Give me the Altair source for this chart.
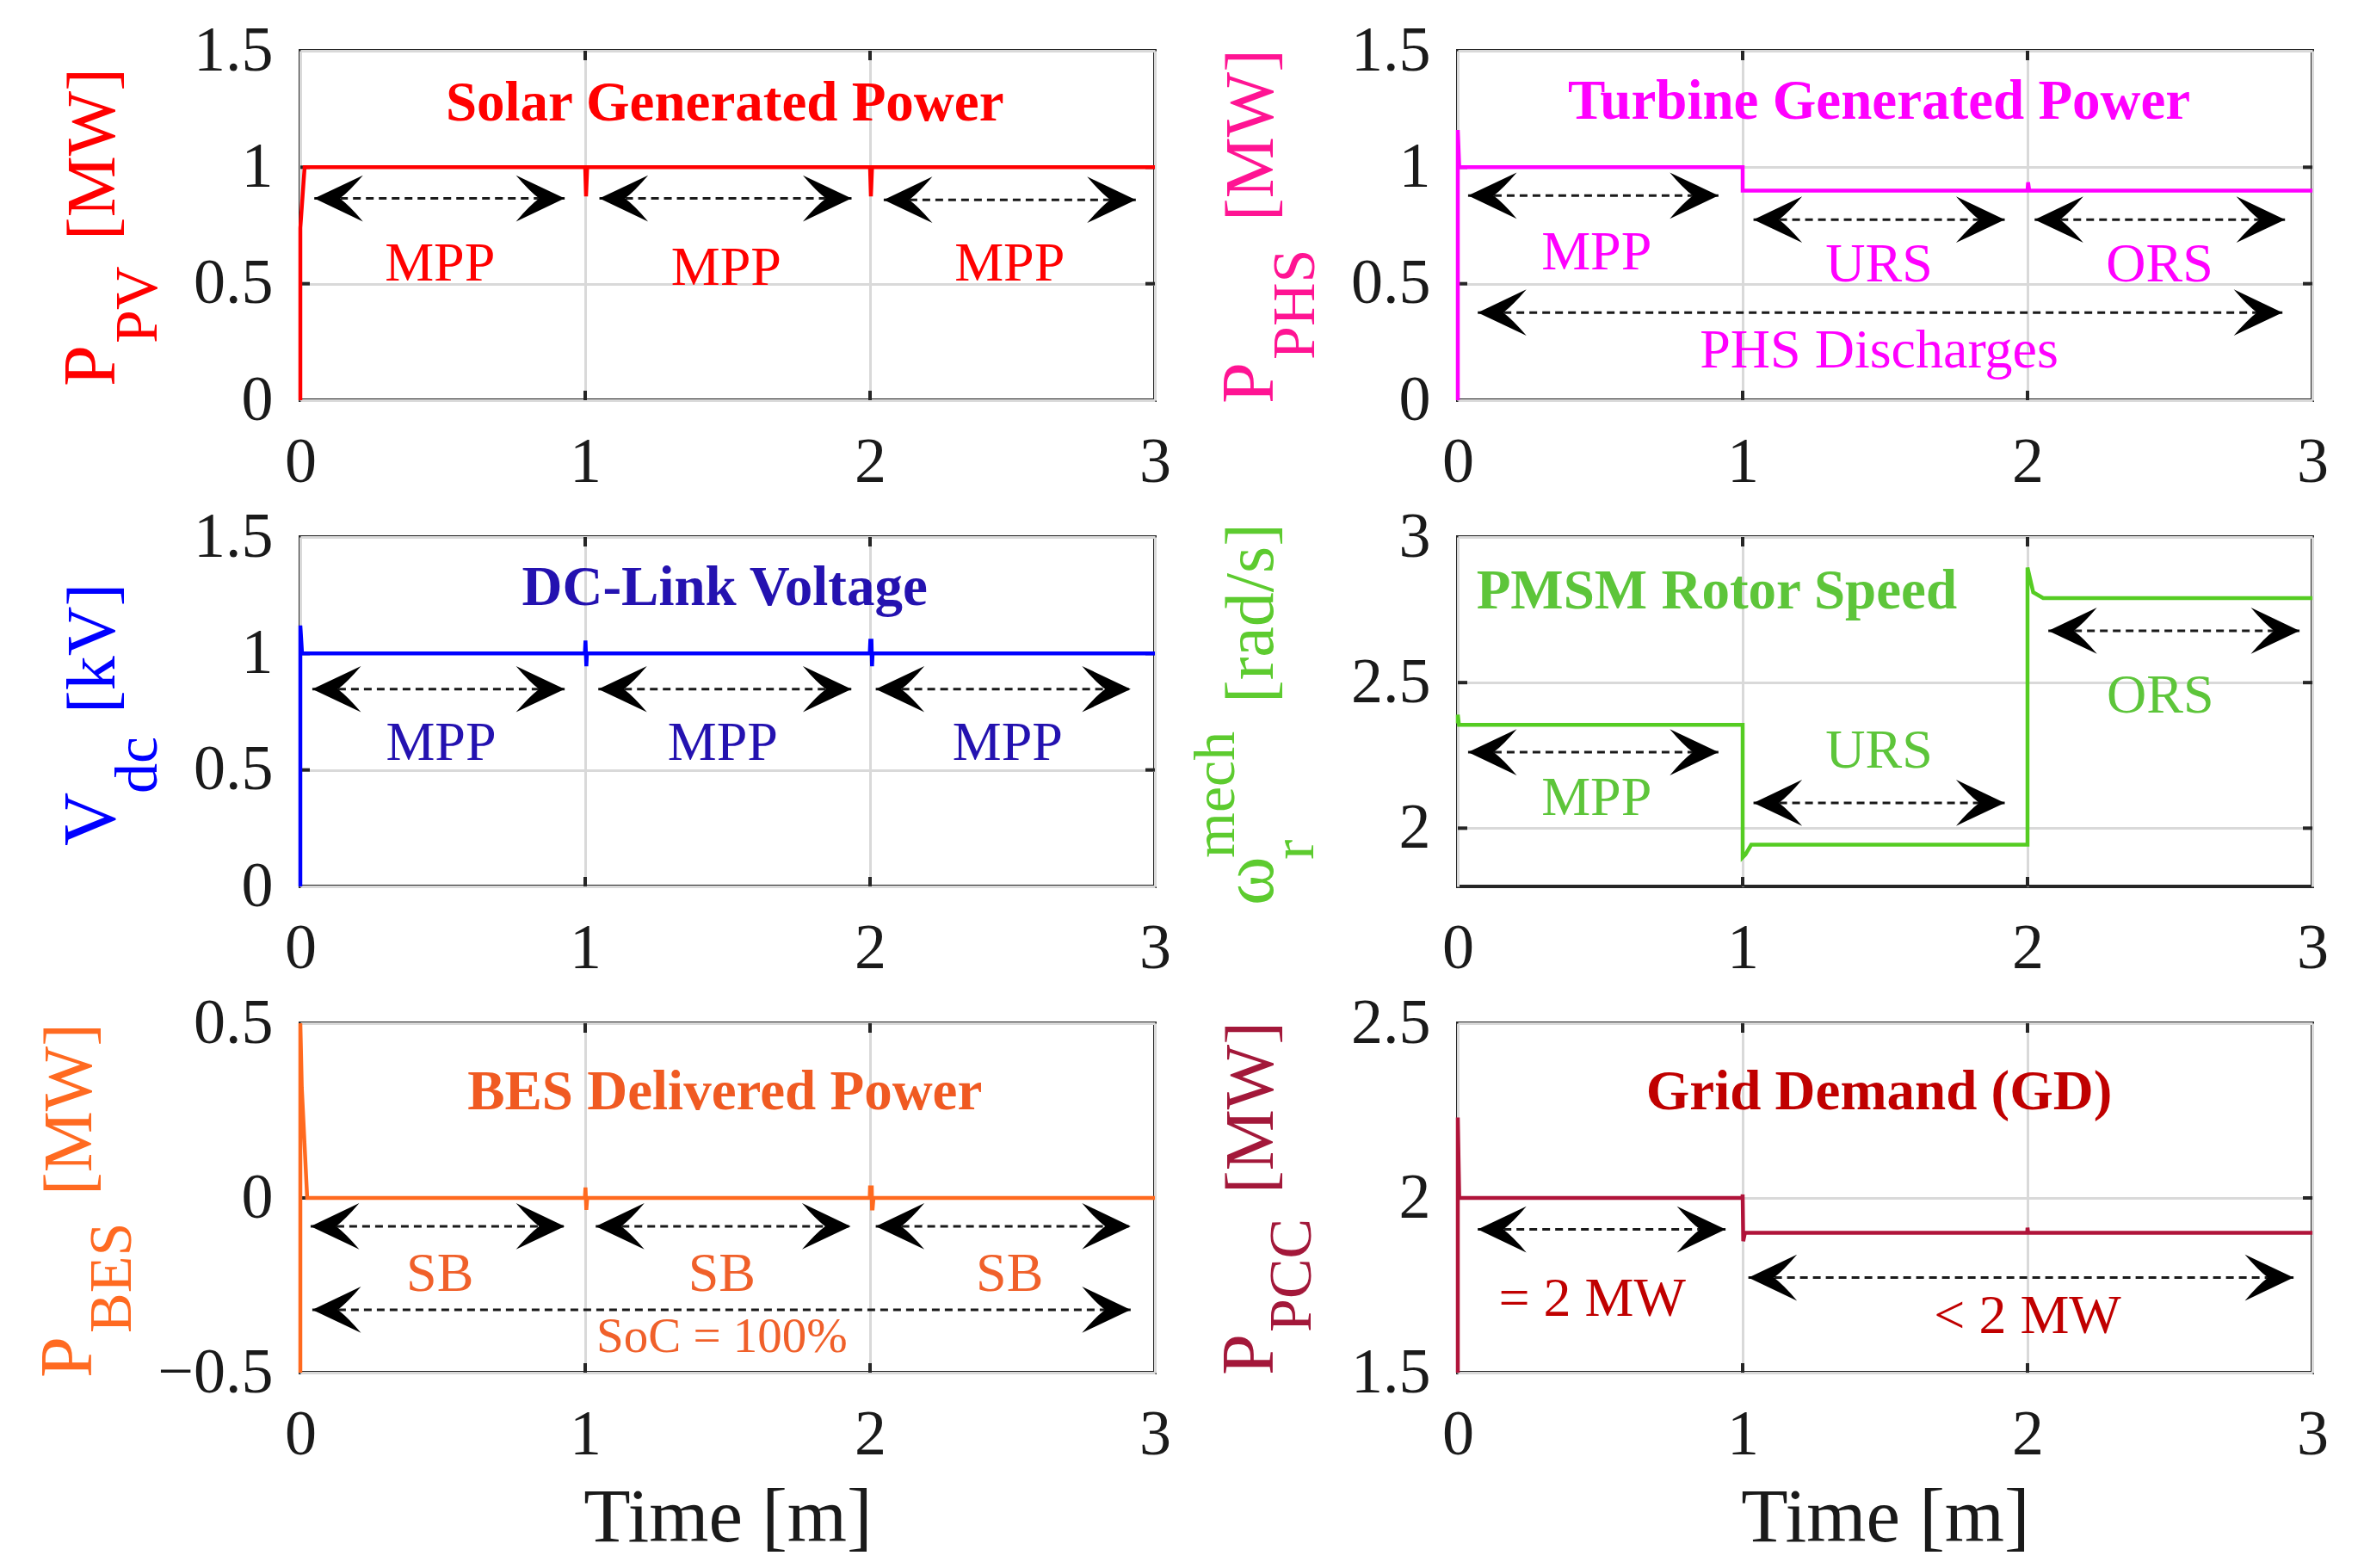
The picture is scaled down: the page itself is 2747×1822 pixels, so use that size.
import altair as alt
import pandas as pd

FONT = "Liberation Serif"
TIME_TICKS = [0, 1, 2, 3]

# ---------------- Panel 1 : Solar generated power ----------------
PV_T = [0, 0, 0.015, 1.0, 1.003, 1.007, 2.0, 2.003, 2.007, 3.0]
PV_V = [0, 0.74, 1.0, 1.0, 0.875, 1.0, 1.0, 0.875, 1.0, 1.0]
PV_YTICKS = [0, 0.5, 1, 1.5]
PV_ARROW_T0 = [0.049, 1.05, 2.048]
PV_ARROW_T1 = [0.928, 1.935, 2.933]
PV_ARROW_Y = [0.866, 0.866, 0.86]
PV_LABELS = ["MPP", "MPP", "MPP"]
PV_LABEL_T = [0.49, 1.495, 2.49]
PV_LABEL_Y = [0.582, 0.564, 0.582]

# ---------------- Panel 2 : Turbine generated power ----------------
PHS_T = [0, 0, 0.005, 1.0, 1.0, 2.0, 2.002, 2.006, 3.0]
PHS_V = [0, 1.16, 1.0, 1.0, 0.9, 0.9, 0.935, 0.9, 0.9]
PHS_YTICKS = [0, 0.5, 1, 1.5]
PHS_ARROW_T0 = [0.036, 1.038, 2.025, 0.07]
PHS_ARROW_T1 = [0.915, 1.92, 2.904, 2.895]
PHS_ARROW_Y = [0.878, 0.775, 0.775, 0.376]
PHS_LABELS = ["MPP", "URS", "ORS", "PHS Discharges"]
PHS_LABEL_T = [0.487, 1.479, 2.464, 1.479]
PHS_LABEL_Y = [0.63, 0.579, 0.579, 0.21]

# ---------------- Panel 3 : DC-link voltage ----------------
VDC_T = [0, 0, 0.006, 0.999, 1.001, 1.004, 1.006, 1.999, 2.001, 2.005, 2.007, 2.009, 3.0]
VDC_V = [0, 1.12, 1.0, 1.0, 1.055, 0.945, 1.0, 1.0, 1.055, 1.055, 0.945, 1.0, 1.0]
VDC_YTICKS = [0, 0.5, 1, 1.5]
VDC_ARROW_T0 = [0.042, 1.046, 2.02]
VDC_ARROW_T1 = [0.928, 1.935, 2.915]
VDC_ARROW_Y = [0.847, 0.847, 0.847]
VDC_LABELS = ["MPP", "MPP", "MPP"]
VDC_LABEL_T = [0.494, 1.483, 2.483]
VDC_LABEL_Y = [0.613, 0.613, 0.613]

# ---------------- Panel 4 : PMSM rotor speed ----------------
W_T = [0, 0, 0.004, 1.0, 1.0, 1.01, 1.03, 2.0, 2.0, 2.02, 2.055, 3.0]
W_V = [2.36, 2.39, 2.355, 2.355, 1.90, 1.91, 1.943, 1.943, 2.895, 2.81, 2.79, 2.79]
W_YTICKS = [2, 2.5, 3]
W_ARROW_T0 = [0.036, 1.038, 2.073]
W_ARROW_T1 = [0.915, 1.92, 2.955]
W_ARROW_Y = [2.261, 2.087, 2.678]
W_LABELS = ["MPP", "URS", "ORS"]
W_LABEL_T = [0.487, 1.479, 2.466]
W_LABEL_Y = [2.102, 2.264, 2.452]

# ---------------- Panel 5 : BES delivered power ----------------
BES_T = [0, 0, 0.005, 0.024, 0.999, 1.001, 1.004, 1.007, 1.999, 2.0, 2.006, 2.007, 2.009, 2.012, 3.0]
BES_V = [-0.5, 0.5, 0.316, 0, 0, 0.03, -0.034, 0, 0, 0.03, 0.03, -0.03, -0.03, 0, 0]
BES_YTICKS = [-0.5, 0, 0.5]
BES_ARROW_T0 = [0.036, 1.037, 2.02, 0.042]
BES_ARROW_T1 = [0.928, 1.932, 2.915, 2.915]
BES_ARROW_Y = [-0.081, -0.081, -0.081, -0.32]
BES_LABELS = ["SB", "SB", "SB"]
BES_LABEL_T = [0.49, 1.48, 2.49]
BES_LABEL_Y = [-0.218, -0.218, -0.218]
BES_NOTES = ["SoC = 100%"]
BES_NOTE_T = [1.48]
BES_NOTE_Y = [-0.40]

# ---------------- Panel 6 : Grid demand ----------------
PCC_T = [0, 0, 0.005, 0.999, 1.0, 1.002, 1.008, 1.999, 2.0, 2.002, 3.0]
PCC_V = [1.5, 2.23, 2.0, 2.0, 2.01, 1.876, 1.9, 1.9, 1.915, 1.9, 1.9]
PCC_YTICKS = [1.5, 2, 2.5]
PCC_ARROW_T0 = [0.07, 1.02]
PCC_ARROW_T1 = [0.94, 2.934]
PCC_ARROW_Y = [1.91, 1.772]
PCC_LABELS = ["= 2 MW", "< 2 MW"]
PCC_LABEL_T = [0.472, 2.0]
PCC_LABEL_Y = [1.71, 1.66]

# ---------------- layout / style ----------------
W, H = 993, 406
LEFT_HEAD = "M0,0 L2,-0.95 Q1.45,-0.3 1.05,0 Q1.45,0.3 2,0.95 Z"
RIGHT_HEAD = "M0,0 L-2,-0.95 Q-1.45,-0.3 -1.05,0 Q-1.45,0.3 -2,0.95 Z"
MAIN, SUB, UNIT, SUP = 86, 70, 80, 68


def x_enc(field, xtitle):
    return alt.X(field, type="quantitative",
                 scale=alt.Scale(domain=[0, 3], nice=False, zero=False),
                 axis=alt.Axis(values=TIME_TICKS, format="~g", title=xtitle))


def y_enc(field, domain, ticks):
    return alt.Y(field, type="quantitative",
                 scale=alt.Scale(domain=domain, nice=False, zero=False),
                 axis=alt.Axis(values=ticks, format="~g", title=None))


def panel(t, v, domain, yticks, line_color, title, title_color, title_pos,
          a0, a1, ay, labels, lt, ly, label_color, ytitle, xtitle=None,
          notes=None, nt=None, ny=None):
    X = lambda f: x_enc(f, xtitle)
    Y = lambda f: y_enc(f, domain, yticks)
    layers = []
    # inward ticks
    xt = pd.DataFrame({"t": [1, 2]})
    layers.append(alt.Chart(xt).mark_rule(color="#262626", strokeWidth=4).encode(
        x=X("t"), y=alt.value(H - 11), y2=alt.value(H)))
    layers.append(alt.Chart(xt).mark_rule(color="#262626", strokeWidth=4).encode(
        x=X("t"), y=alt.value(0), y2=alt.value(11)))
    yt = pd.DataFrame({"v": [y for y in yticks if y not in (domain[0], domain[1])]})
    layers.append(alt.Chart(yt).mark_rule(color="#262626", strokeWidth=4).encode(
        y=Y("v"), x=alt.value(0), x2=alt.value(11)))
    layers.append(alt.Chart(yt).mark_rule(color="#262626", strokeWidth=4).encode(
        y=Y("v"), x=alt.value(W - 11), x2=alt.value(W)))
    # signal
    df = pd.DataFrame({"t": t, "v": v, "i": list(range(len(t)))})
    layers.append(alt.Chart(df).mark_line(color=line_color, strokeWidth=4.5).encode(
        x=X("t"), y=Y("v"), order=alt.Order("i:Q")))
    # arrows
    adf = pd.DataFrame({"t0": a0, "t1": a1, "y": ay})
    layers.append(alt.Chart(adf).mark_rule(color="#1a1a1a", strokeWidth=3, strokeDash=[9, 6]).encode(
        x=X("t0"), x2="t1", y=Y("y")))
    layers.append(alt.Chart(adf).mark_point(shape=LEFT_HEAD, filled=True, size=3200, color="black",
                                            opacity=1).encode(x=X("t0"), y=Y("y")))
    layers.append(alt.Chart(adf).mark_point(shape=RIGHT_HEAD, filled=True, size=3200, color="black",
                                            opacity=1).encode(x=X("t1"), y=Y("y")))
    # labels
    ldf = pd.DataFrame({"txt": labels, "t": lt, "y": ly})
    layers.append(alt.Chart(ldf).mark_text(font=FONT, fontSize=64, color=label_color,
                                           align="center", baseline="middle").encode(
        x=X("t"), y=Y("y"), text="txt:N"))
    if notes:
        ndf = pd.DataFrame({"txt": notes, "t": nt, "y": ny})
        layers.append(alt.Chart(ndf).mark_text(font=FONT, fontSize=57, color=label_color,
                                               align="center", baseline="middle").encode(
            x=X("t"), y=Y("y"), text="txt:N"))
    # panel title
    tdf = pd.DataFrame({"txt": [title], "t": [title_pos[0]], "y": [title_pos[1]]})
    layers.append(alt.Chart(tdf).mark_text(font=FONT, fontSize=65, fontWeight="bold", color=title_color,
                                           align="center", baseline="middle").encode(
        x=X("t"), y=Y("y"), text="txt:N"))
    # y-axis title pieces (rotated, with sub/superscripts)
    color = ytitle["color"]
    for txt, size, dx, dy in ytitle["parts"]:
        pdf = pd.DataFrame({"txt": [txt]})
        layers.append(alt.Chart(pdf).mark_text(font=FONT, fontSize=size, color=color, angle=270,
                                               align="left", baseline="alphabetic").encode(
            x=alt.value(dx), y=alt.value(dy), text="txt:N"))
    return alt.layer(*layers).properties(width=W, height=H)


p1 = panel(PV_T, PV_V, [0, 1.5], PV_YTICKS, "#FF0000", "Solar Generated Power", "#FF0000", (1.49, 1.275),
           PV_ARROW_T0, PV_ARROW_T1, PV_ARROW_Y, PV_LABELS, PV_LABEL_T, PV_LABEL_Y, "#FF0000",
           {"color": "#FF0000", "parts": [("P", MAIN, -216, 390), ("PV", SUB, -167, 340), ("[MW]", UNIT, -216, 220)]})
p2 = panel(PHS_T, PHS_V, [0, 1.5], PHS_YTICKS, "#FF00FF", "Turbine Generated Power", "#FF00FF", (1.479, 1.282),
           PHS_ARROW_T0, PHS_ARROW_T1, PHS_ARROW_Y, PHS_LABELS, PHS_LABEL_T, PHS_LABEL_Y, "#FF00FF",
           {"color": "#FF1493", "parts": [("P", MAIN, -215, 410), ("PHS", SUB, -167, 359), ("[MW]", UNIT, -215, 198)]})
p3 = panel(VDC_T, VDC_V, [0, 1.5], VDC_YTICKS, "#0000FF", "DC-Link Voltage", "#2412B0", (1.49, 1.283),
           VDC_ARROW_T0, VDC_ARROW_T1, VDC_ARROW_Y, VDC_LABELS, VDC_LABEL_T, VDC_LABEL_Y, "#2412B0",
           {"color": "#0000FF", "parts": [("V", MAIN, -216, 359), ("dc", SUB, -167, 298), ("[kV]", UNIT, -216, 205)]})
p4 = panel(W_T, W_V, [1.8, 3], W_YTICKS, "#55CC22", "PMSM Rotor Speed", "#5DC53A", (0.909, 2.814),
           W_ARROW_T0, W_ARROW_T1, W_ARROW_Y, W_LABELS, W_LABEL_T, W_LABEL_Y, "#5DC53A",
           {"color": "#5DCB2F", "parts": [("ω", MAIN, -215, 428), ("mech", SUP, -260, 373), ("r", SUB, -168, 375),
                                          ("[rad/s]", UNIT, -215, 193)]})
p5 = panel(BES_T, BES_V, [-0.5, 0.5], BES_YTICKS, "#FF6A1F", "BES Delivered Power", "#F05A22", (1.49, 0.304),
           BES_ARROW_T0, BES_ARROW_T1, BES_ARROW_Y, BES_LABELS, BES_LABEL_T, BES_LABEL_Y, "#F0602A",
           {"color": "#FF6A21", "parts": [("P", MAIN, -243, 412), ("BES", SUB, -197, 360), ("[MW]", UNIT, -243, 200)]},
           xtitle="Time [m]", notes=BES_NOTES, nt=BES_NOTE_T, ny=BES_NOTE_Y)
p6 = panel(PCC_T, PCC_V, [1.5, 2.5], PCC_YTICKS, "#B0143A", "Grid Demand (GD)", "#C00000", (1.479, 2.304),
           PCC_ARROW_T0, PCC_ARROW_T1, PCC_ARROW_Y, PCC_LABELS, PCC_LABEL_T, PCC_LABEL_Y, "#C00000",
           {"color": "#A3183A", "parts": [("P", MAIN, -215, 409), ("PCC", SUB, -171, 359), ("[MW]", UNIT, -215, 198)]},
           xtitle="Time [m]")

chart = alt.concat(p1, p2, p3, p4, p5, p6, columns=2,
                   spacing={"row": 159, "column": 352}, bounds="flush").properties(
    padding={"left": 27, "top": 12, "right": 5, "bottom": 5}
).configure_view(
    stroke="#262626", strokeWidth=4
).configure_axis(
    labelFont=FONT, labelFontSize=74, labelColor="#1a1a1a", labelFlush=False,
    grid=True, gridColor="#D9D9D9", gridWidth=3,
    domain=False, ticks=False, tickSize=0,
    titleFont=FONT, titleFontSize=89, titleFontWeight="normal", titleColor="#1a1a1a"
).configure_axisX(
    labelPadding=36, titlePadding=16
).configure_axisY(
    labelPadding=32
)

chart.save("out.html", embed_options={"renderer": "svg", "actions": False})
